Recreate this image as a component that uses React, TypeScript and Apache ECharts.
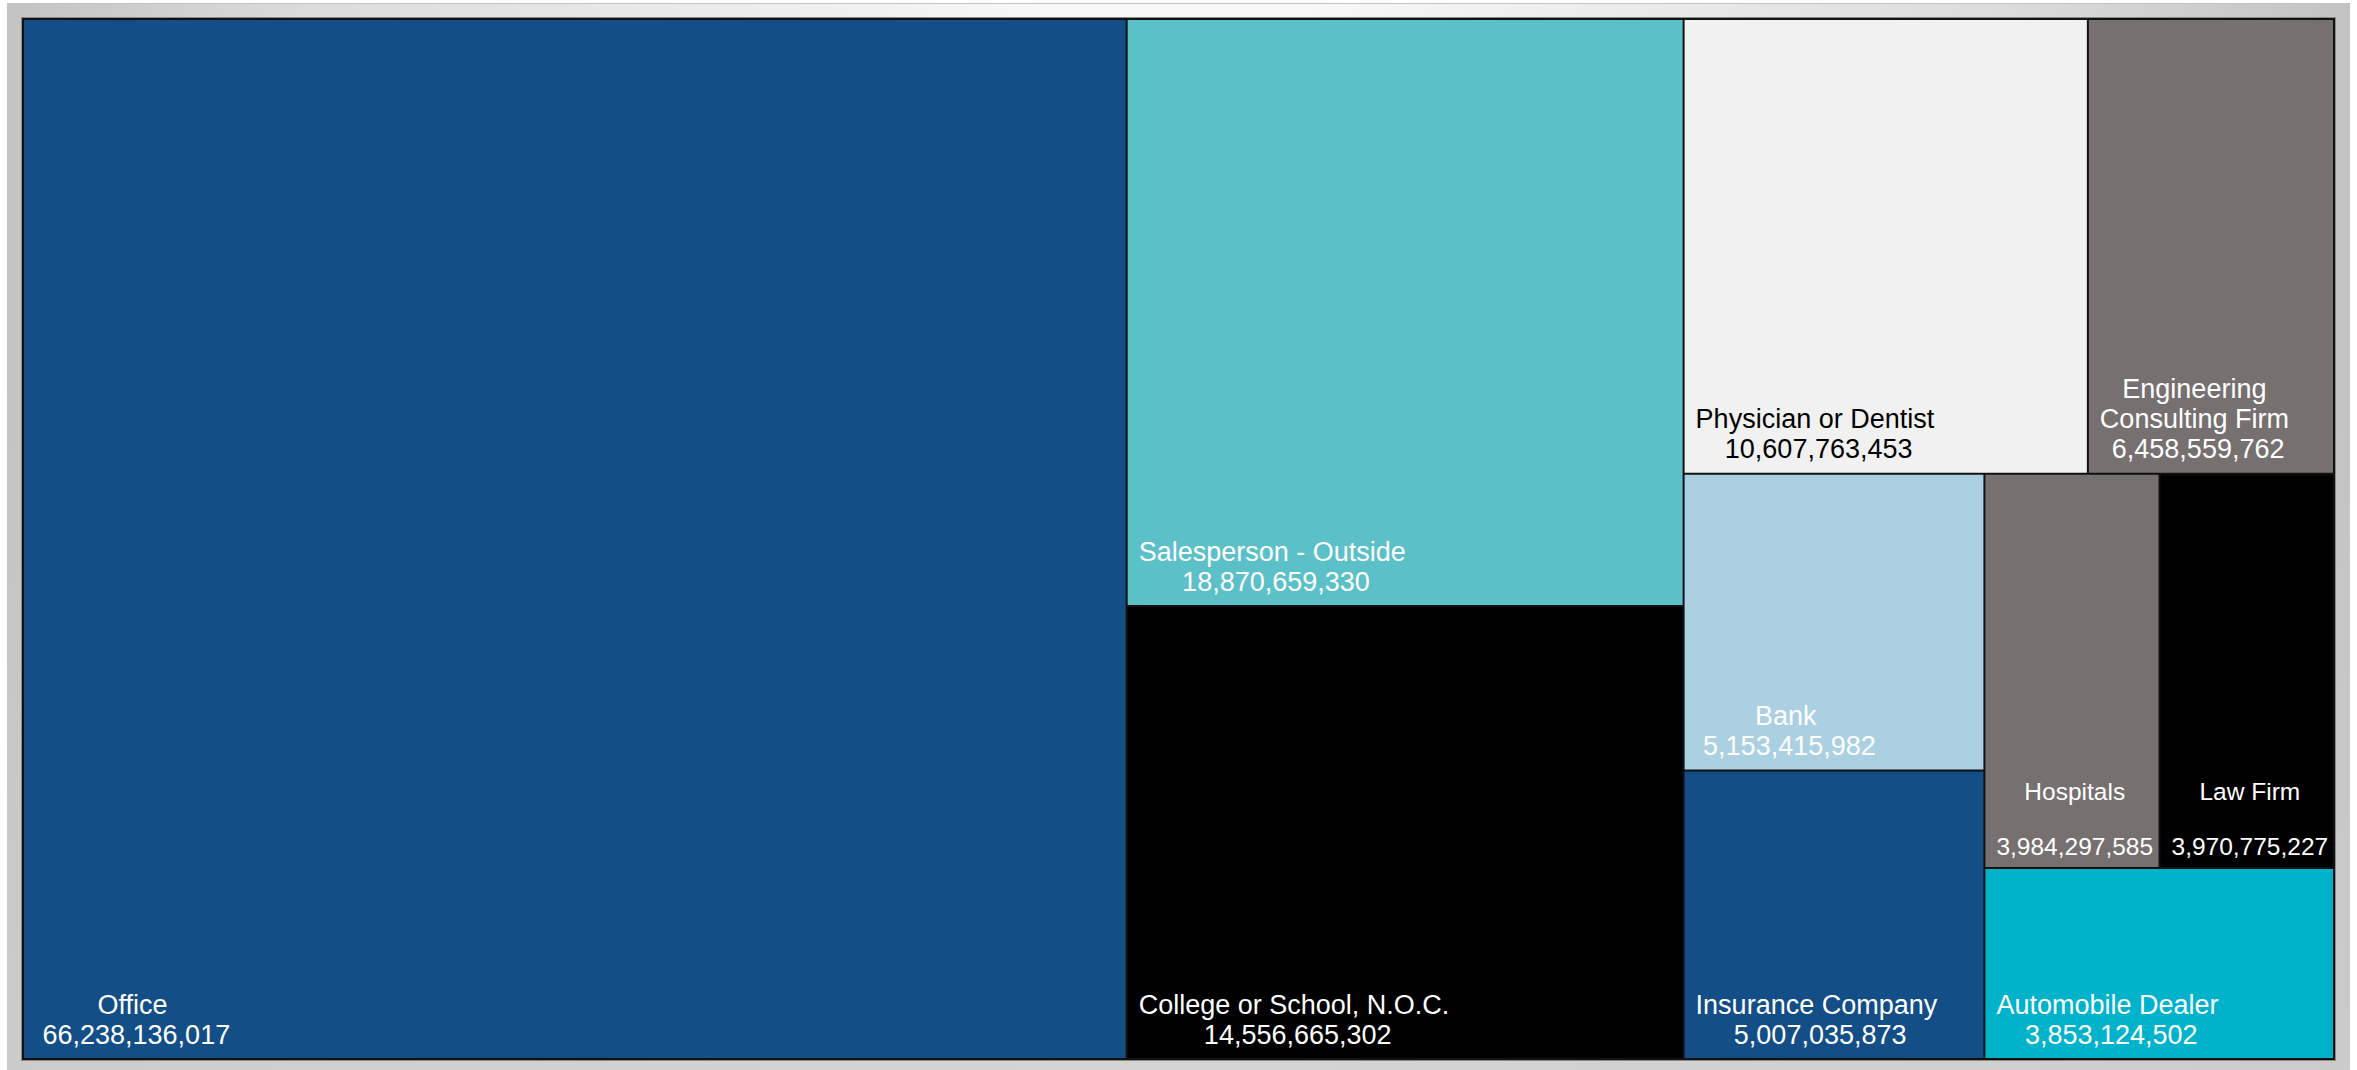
import React, { useEffect, useRef } from 'react';
import * as echarts from 'echarts';

// ---- data ----
const categories = [
  'Office',
  'Salesperson - Outside',
  'College or School, N.O.C.',
  'Physician or Dentist',
  'Engineering Consulting Firm',
  'Bank',
  'Insurance Company',
  'Hospitals',
  'Law Firm',
  'Automobile Dealer',
];
const values = [
  66238136017, 18870659330, 14556665302, 10607763453, 6458559762,
  5153415982, 5007035873, 3984297585, 3970775227, 3853124502,
];

// ---- styles ----
const cellColors = [
  '#134E87', '#5BC0C8', '#000000', '#F1F1F1', '#767070',
  '#ABD0E1', '#134E87', '#767070', '#000000', '#00B3CB',
];
const labelColors = [
  '#ffffff', '#ffffff', '#ffffff', '#000000', '#ffffff',
  '#ffffff', '#ffffff', '#ffffff', '#ffffff', '#ffffff',
];

const PAGE_W = 2357;
const PAGE_H = 1070;
const FONT = '"Liberation Sans", Arial, Helvetica, sans-serif';
const FS = 27;
const FS_COMPACT = 24.5;

let measureCtx: CanvasRenderingContext2D | null = null;
function measure(text: string, size: number): number {
  if (!measureCtx) {
    const c = document.createElement('canvas');
    measureCtx = c.getContext('2d');
  }
  if (!measureCtx) return text.length * size * 0.55;
  measureCtx.font = `${size}px ${FONT}`;
  return measureCtx.measureText(text).width;
}

function wrapWords(name: string, size: number, maxW: number): string[] {
  const words = name.split(' ');
  const lines: string[] = [];
  let cur = '';
  for (const w of words) {
    const test = cur ? cur + ' ' + w : w;
    if (cur && measure(test, size) > maxW) {
      lines.push(cur);
      cur = w;
    } else {
      cur = test;
    }
  }
  if (cur) lines.push(cur);
  return lines;
}

export default function App() {
  const ref = useRef<HTMLDivElement>(null);

  useEffect(() => {
    document.body.style.margin = '0';
    document.body.style.overflow = 'hidden';
    if (!ref.current) return;
    const chart = echarts.init(ref.current, null, { renderer: 'svg' });

    const seriesData = categories.map((name, i) => ({
      name,
      value: values[i],
      itemStyle: { color: cellColors[i] },
    }));

    chart.setOption({
      animation: false,
      backgroundColor: 'transparent',
      series: [
        {
          type: 'treemap',
          left: 22,
          top: 18,
          width: 2313,
          height: 1042,
          roam: false,
          nodeClick: false,
          silent: true,
          sort: 'desc',
          squareRatio: 1.4,
          breadcrumb: { show: false },
          label: { show: false },
          upperLabel: { show: false },
          levels: [
            { itemStyle: { borderColor: '#111111', borderWidth: 2, gapWidth: 2 } },
            { itemStyle: { borderColor: '#111111', borderWidth: 0, gapWidth: 0 } },
          ],
          data: seriesData,
        },
      ],
    });

    // Labels placed from the treemap's own computed layout
    try {
      const model = (chart as any).getModel();
      const series = model.getSeriesByIndex(0);
      const data = series.getData();
      const layoutInfo = series.layoutInfo || { x: 22, y: 18 };
      const root = data.tree.root;
      const rl = root.getLayout() || {};
      const ox = layoutInfo.x + (rl.x || 0);
      const oy = layoutInfo.y + (rl.y || 0);
      const elements: any[] = [];
      root.children.forEach((node: any) => {
        const l = node.getLayout();
        if (!l) return;
        const idx = categories.indexOf(node.name);
        const value = idx >= 0 ? values[idx] : node.getValue();
        const color = idx >= 0 ? labelColors[idx] : '#fff';
        const valueStr = Number(value).toLocaleString('en-US');
        const padL = 11;
        const inner = l.width - 2 * padL;
        const lead = 7.5;
        const compact = measure(valueStr, FS) + lead > inner;
        const fs = compact ? FS_COMPACT : FS;
        const lh = compact ? 27.5 : 30;
        const padB = compact ? 7 : 8.5;
        const nameLines = wrapWords(node.name, fs, inner);
        const parts = nameLines.map((s) => `{n|${s}}`);
        if (compact) parts.push('{n| }');
        parts.push(`{v|${valueStr}}`);
        elements.push({
          type: 'text',
          silent: true,
          z: 100,
          x: ox + l.x + padL,
          y: oy + l.y + l.height - padB,
          style: {
            text: parts.join('\n'),
            align: 'left',
            verticalAlign: 'bottom',
            rich: {
              n: {
                fill: color,
                fontSize: fs,
                fontFamily: FONT,
                lineHeight: lh,
                align: 'center',
              },
              v: {
                fill: color,
                fontSize: fs,
                fontFamily: FONT,
                lineHeight: lh,
                align: 'center',
                padding: compact ? [0, 0, 0, 0] : [0, 0, 0, lead],
              },
            },
          },
        });
      });
      chart.setOption({ graphic: { elements } });
    } catch (e) {
      // ignore
    }

    return () => {
      chart.dispose();
    };
  }, []);

  return (
    <div style={{ position: 'relative', width: PAGE_W, height: PAGE_H, background: '#ffffff', overflow: 'hidden' }}>
      <div
        style={{
          position: 'absolute',
          left: 7,
          top: 3,
          width: 2343,
          height: 1067,
          borderTop: '1px solid #c4c4c4',
          boxSizing: 'border-box',
          background:
            'linear-gradient(to bottom, rgba(205,205,205,0) 0%, rgba(205,205,205,0) 35%, rgba(205,205,205,0.85) 100%), ' +
            'linear-gradient(to right, #c3c3c3 0%, #dcdcdc 13%, #f8f8f8 45%, #f8f8f8 55%, #dcdcdc 85%, #c3c3c3 100%)',
        }}
      />
      <div
        style={{
          position: 'absolute',
          left: 21,
          top: 17,
          width: 2315,
          height: 1044,
          background: '#8a8a8a',
        }}
      />
      <div ref={ref} style={{ position: 'absolute', left: 0, top: 0, width: PAGE_W, height: PAGE_H }} />
    </div>
  );
}
